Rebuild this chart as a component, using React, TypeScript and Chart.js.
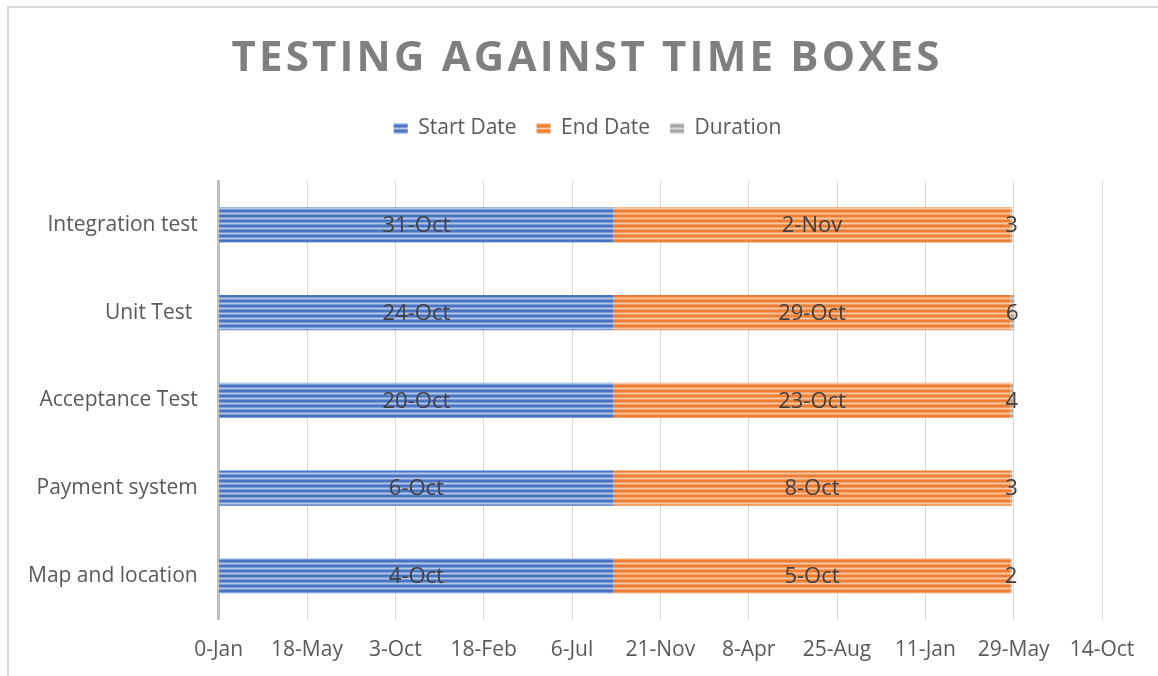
import React, { useEffect, useRef } from 'react';
import { Chart, registerables } from 'chart.js';

Chart.register(...registerables);

const chartTitle = 'TESTING AGAINST TIME BOXES';
const categories = ['Integration test', 'Unit Test ', 'Acceptance Test', 'Payment system', 'Map and location'];
const startValues = [617, 617, 617, 617, 617];
const endValues = [620, 620, 620, 620, 620];
const durationValues = [3, 6, 4, 3, 2];
const startLabels = ['31-Oct', '24-Oct', '20-Oct', '6-Oct', '4-Oct'];
const endLabels = ['2-Nov', '29-Oct', '23-Oct', '8-Oct', '5-Oct'];
const tickLabels = ['0-Jan', '18-May', '3-Oct', '18-Feb', '6-Jul', '21-Nov', '8-Apr', '25-Aug', '11-Jan', '29-May', '14-Oct'];
const tickStep = 138;
const seriesNames = ['Start Date', 'End Date', 'Duration'];

const FONT = '"Open Sans", "Noto Sans", sans-serif';

function makePattern(dark: string, mid: string, light: string): CanvasPattern | string {
  const c = document.createElement('canvas');
  c.width = 8;
  c.height = 5;
  const g = c.getContext('2d');
  if (!g) return dark;
  const rows = [dark, dark, mid, light, mid];
  rows.forEach((col, i) => {
    g.fillStyle = col;
    g.fillRect(0, i, 8, 1);
  });
  const ctx = document.createElement('canvas').getContext('2d');
  const p = ctx ? ctx.createPattern(c, 'repeat') : null;
  return p || dark;
}

const borderPlugin = {
  id: 'frameBorder',
  beforeDraw(chart: any) {
    const ctx = chart.ctx;
    ctx.save();
    ctx.fillStyle = '#ffffff';
    ctx.fillRect(0, 0, chart.width, chart.height);
    ctx.strokeStyle = '#d9d9d9';
    ctx.lineWidth = 2;
    ctx.strokeRect(8, 7, chart.width + 20, chart.height + 20);
    ctx.restore();
  },
};

const legendGapPlugin = {
  id: 'legendGap',
  beforeLayout(chart: any) {
    const lg = chart.legend;
    if (lg && !lg.__gapPatched) {
      const orig = lg.fit.bind(lg);
      lg.fit = function () {
        orig();
        this.height += 32;
      };
      lg.__gapPatched = true;
    }
  },
  afterLayout(chart: any) {
    const lg = chart.legend;
    if (lg) {
      lg.left += 33;
      lg.right += 33;
    }
  },
};

const titlePlugin = {
  id: 'spacedTitle',
  afterDraw(chart: any) {
    const ctx = chart.ctx;
    ctx.save();
    ctx.font = 'bold 42px ' + FONT;
    (ctx as any).letterSpacing = '3.2px';
    ctx.fillStyle = '#7f7f7f';
    ctx.textAlign = 'center';
    ctx.textBaseline = 'middle';
    ctx.fillText(chartTitle, 587, 59);
    ctx.restore();
  },
};

const labelPlugin = {
  id: 'barLabels',
  afterDatasetsDraw(chart: any) {
    const ctx = chart.ctx;
    const sets = [startLabels, endLabels, durationValues.map((v) => String(v))];
    ctx.save();
    ctx.font = '22px ' + FONT;
    ctx.fillStyle = '#404040';
    ctx.textAlign = 'center';
    ctx.textBaseline = 'middle';
    chart.data.datasets.forEach((_ds: any, di: number) => {
      const meta = chart.getDatasetMeta(di);
      meta.data.forEach((bar: any, i: number) => {
        const cx = (bar.x + bar.base) / 2;
        ctx.fillText(sets[di][i], cx, bar.y + 1);
      });
    });
    ctx.restore();
  },
};

export default function App() {
  const ref = useRef<HTMLCanvasElement | null>(null);

  useEffect(() => {
    if (!ref.current) return;
    const blue = makePattern('#4a74c2', '#7f9ed8', '#b3c6ea');
    const orange = makePattern('#ed7d31', '#f29e66', '#f8c7a4');
    const gray = makePattern('#a5a5a5', '#bfbfbf', '#dcdcdc');

    const chart = new Chart(ref.current, {
      type: 'bar',
      data: {
        labels: categories,
        datasets: [
          { label: seriesNames[0], data: startValues, backgroundColor: blue as any, borderWidth: 0 },
          { label: seriesNames[1], data: endValues, backgroundColor: orange as any, borderWidth: 0 },
          { label: seriesNames[2], data: durationValues, backgroundColor: gray as any, borderWidth: 0 },
        ],
      },
      options: {
        indexAxis: 'y',
        responsive: false,
        animation: false,
        categoryPercentage: 0.8,
        barPercentage: 0.5,
        layout: { padding: { top: 98, left: 7, right: 56, bottom: -5 } },
        plugins: {
          legend: {
            display: true,
            position: 'top',
            labels: {
              boxWidth: 14,
              boxHeight: 11,
              padding: 20,
              color: '#595959',
              font: { family: FONT, size: 21 },
            },
          },
          title: { display: false },
          tooltip: { enabled: false },
        },
        scales: {
          x: {
            type: 'linear',
            stacked: true,
            min: 0,
            max: tickStep * (tickLabels.length - 1),
            ticks: {
              stepSize: tickStep,
              color: '#595959',
              font: { family: FONT, size: 21 },
              padding: 18,
              maxRotation: 0,
              autoSkip: false,
              callback: (v: any) => tickLabels[Math.round(Number(v) / tickStep)] ?? '',
            },
            grid: { color: '#d9d9d9', lineWidth: 1, drawTicks: false },
            border: { display: false },
          },
          y: {
            stacked: true,
            ticks: {
              color: '#595959',
              font: { family: FONT, size: 21 },
              padding: 21,
            },
            grid: { display: false, drawTicks: false },
            border: { display: true, color: '#bfbfbf', width: 3 },
          },
        },
      },
      plugins: [borderPlugin, legendGapPlugin, titlePlugin, labelPlugin],
    });
    return () => chart.destroy();
  }, []);

  return (
    <div style={{ position: 'absolute', left: 0, top: 0, width: 1158, height: 676 }}>
      <canvas ref={ref} width={1158} height={676} style={{ display: 'block' }} />
    </div>
  );
}
